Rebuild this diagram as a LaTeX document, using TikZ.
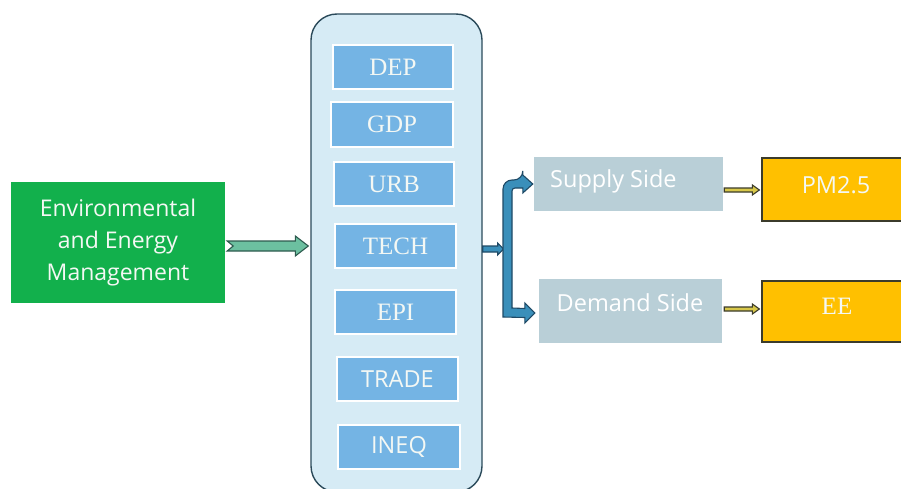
\documentclass[tikz,border=0pt]{standalone}
\usepackage{fontspec}
\setmainfont{Liberation Serif}
\newfontfamily\sansf{Open Sans}
\usetikzlibrary{calc}
\definecolor{envgreen}{HTML}{12B04C}
\definecolor{tealfill}{HTML}{6CC0A0}
\definecolor{tealline}{HTML}{2E5A4E}
\definecolor{contfill}{HTML}{D6EBF5}
\definecolor{contline}{HTML}{2B4A5A}
\definecolor{boxblue}{HTML}{74B4E4}
\definecolor{arrblue}{HTML}{3A8FBA}
\definecolor{arrline}{HTML}{1F4A66}
\definecolor{sidegray}{HTML}{B9CFD7}
\definecolor{gold}{HTML}{FFC000}
\definecolor{goldline}{HTML}{3B3B2B}
\definecolor{yarrow}{HTML}{D8C84A}
\definecolor{softwhite}{HTML}{F4F8F4}
\begin{document}
\begin{tikzpicture}[x=1pt,y=-1pt,
  varbox/.style={draw=white,line width=1.2pt,fill=boxblue,text=softwhite,inner sep=0pt},
  serifvar/.style={font=\fontsize{25}{28}\selectfont},
  sansvar/.style={font=\sansf\fontsize{23.5}{28}\selectfont},
  sidebox/.style={fill=sidegray,inner sep=0pt},
  sidetext/.style={text=white,font=\sansf\fontsize{23.5}{28}\selectfont,inner sep=0pt},
  outbox/.style={fill=gold,draw=goldline,line width=1.3pt,inner sep=0pt,text=softwhite},
  fatarrow/.style={line width=1.1pt,line join=miter}
]
\useasboundingbox (0,0) rectangle (901,489);

% left box
\node[fill=envgreen,minimum width=214pt,minimum height=121pt,inner sep=0pt,
  text=softwhite,align=center,font=\sansf\fontsize{23}{32}\selectfont] (env) at (118,242.5)
  {Environmental\\and Energy\\Management};

% container
\node[draw=contline,fill=contfill,line width=1.4pt,rounded corners=26pt,
  minimum width=171pt,minimum height=478pt,inner sep=0pt] (cont) at (396.5,253) {};

% variable boxes
\node[varbox,serifvar,minimum width=120pt,minimum height=44pt] (dep) at (393,67) {DEP};
\node[varbox,serifvar,minimum width=122pt,minimum height=45pt] (gdp) at (392,124.5) {GDP};
\node[varbox,serifvar,minimum width=120pt,minimum height=44pt] (urb) at (394,184) {URB};
\node[varbox,serifvar,minimum width=121pt,minimum height=44pt] (tech) at (395.5,246) {TECH};
\node[varbox,serifvar,minimum width=121pt,minimum height=44pt] (epi) at (395.5,312) {EPI};
\node[varbox,sansvar,minimum width=121pt,minimum height=44pt] (trade) at (397.5,379) {TRADE};
\node[varbox,sansvar,minimum width=122pt,minimum height=44pt] (ineq) at (399,447) {INEQ};

% side boxes
\node[sidebox,minimum width=189pt,minimum height=54pt] (supply) at (628.5,184) {};
\node[sidetext,anchor=west] (supplyt) at (550,181) {Supply Side};
\node[sidebox,minimum width=183pt,minimum height=64pt] (demand) at (630.5,311) {};
\node[sidetext,anchor=center] (demandt) at (630,303) {Demand Side};

% outcome boxes
\node[outbox,minimum width=145pt,minimum height=63pt] (pm) at (834.5,189.5) {};
\node[text=softwhite,font=\sansf\fontsize{23.5}{28}\selectfont,inner sep=0pt] (pmt) at (836,185) {PM2.5};
\node[outbox,minimum width=145pt,minimum height=61pt] (ee) at (834.5,311.5) {};
\node[text=softwhite,font=\fontsize{25}{28}\selectfont,inner sep=0pt] (eet) at (837,306) {EE};

% green arrow env -> container
\coordinate (ga) at ($(env.east)+(2,3.5)$);
\coordinate (gb) at ($(cont.west)+(-2,0)$);
\draw[fatarrow,draw=tealline,fill=tealfill]
  ($(ga)+(0,-5)$) -- ($(gb|-ga)+(-13,-5)$) -- ($(gb|-ga)+(-13,-10)$) -- (gb|-ga)
  -- ($(gb|-ga)+(-13,10)$) -- ($(gb|-ga)+(-13,5)$) -- ($(ga)+(0,5)$) -- ($(ga)+(6,0)$) -- cycle;

% blue arrow container -> split
\coordinate (ba) at ($(cont.east)+(0,-4)$);
\draw[fatarrow,draw=arrline,fill=arrblue]
  ($(ba)+(0,-3)$) -- ($(ba)+(15,-3)$) -- ($(ba)+(15,-6)$) -- ($(ba)+(21,0)$)
  -- ($(ba)+(15,6)$) -- ($(ba)+(15,3)$) -- ($(ba)+(0,3)$) -- cycle;

% split bracket
\coordinate (st) at ($(supply.west)+(-1,0)$);
\coordinate (dt) at ($(demand.west)+(-4,2)$);
\draw[fatarrow,draw=arrline,fill=arrblue]
  (503,{317}) [rounded corners=9pt] -- (503,180) -- ($(st)+(-10,-4)$) [rounded corners=0pt]
  -- ($(st)+(-10,-9)$) -- (st) -- ($(st)+(-10,9)$) -- ($(st)+(-10,4)$)
  [rounded corners=3pt] -- (512,188) [rounded corners=0pt] -- (512,308)
  -- ($(dt)+(-10,-4.5)$) -- ($(dt)+(-10,-10)$) -- (dt) -- ($(dt)+(-10,10)$)
  -- ($(dt)+(-10,4.5)$) -- cycle;

% yellow arrows
\coordinate (y1a) at ($(supply.east)+(1,6)$);
\coordinate (y1b) at ($(pm.west)+(-2,0)$);
\draw[fatarrow,draw=goldline,fill=yarrow]
  ($(y1a)+(0,-2)$) -- ($(y1b|-y1a)+(-7,-2)$) -- ($(y1b|-y1a)+(-7,-5)$) -- (y1b|-y1a)
  -- ($(y1b|-y1a)+(-7,5)$) -- ($(y1b|-y1a)+(-7,2)$) -- ($(y1a)+(0,2)$) -- cycle;
\coordinate (y2a) at ($(demand.east)+(2,-2)$);
\coordinate (y2b) at ($(ee.west)+(-2,0)$);
\draw[fatarrow,draw=goldline,fill=yarrow]
  ($(y2a)+(0,-2)$) -- ($(y2b|-y2a)+(-7,-2)$) -- ($(y2b|-y2a)+(-7,-5)$) -- (y2b|-y2a)
  -- ($(y2b|-y2a)+(-7,5)$) -- ($(y2b|-y2a)+(-7,2)$) -- ($(y2a)+(0,2)$) -- cycle;
\end{tikzpicture}
\end{document}
